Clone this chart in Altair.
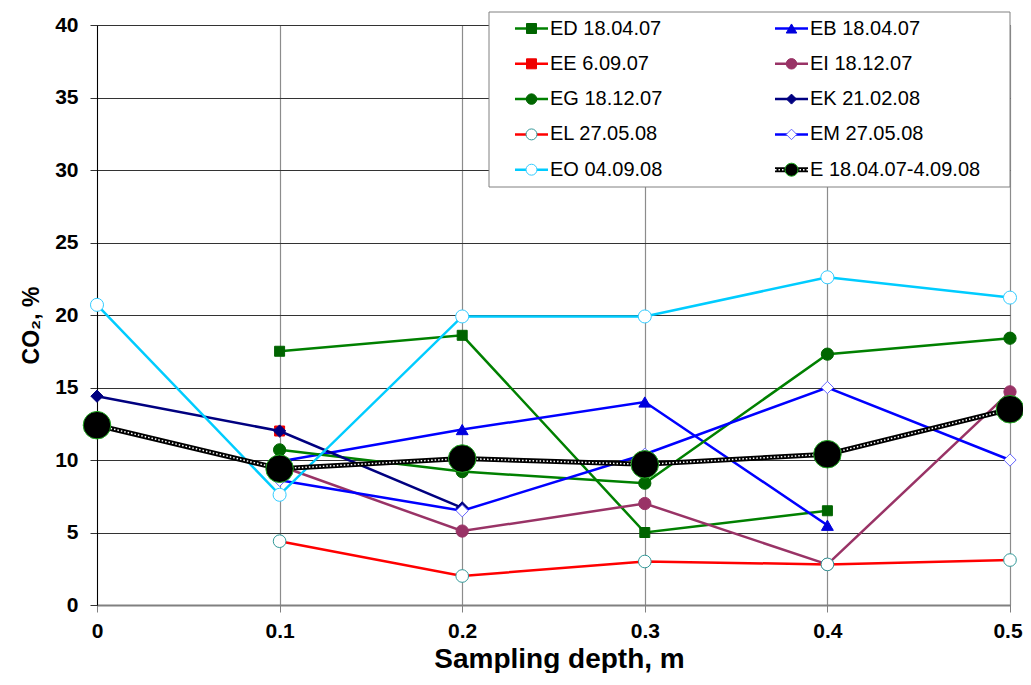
import altair as alt
import pandas as pd

# ---------------- data ----------------
depth = [0, 0.1, 0.2, 0.3, 0.4, 0.5]
series_names = ["ED 18.04.07", "EB 18.04.07", "EE 6.09.07", "EI 18.12.07",
                "EG 18.12.07", "EK 21.02.08", "EL 27.05.08", "EM 27.05.08",
                "EO 04.09.08", "E 18.04.07-4.09.08"]
ed = [None, 17.5, 18.6, 5.0, 6.5, None]
eb = [None, 9.9, 12.1, 14.0, 5.5, None]
ee = [None, 12.0, None, None, None, None]
ei = [None, 9.6, 5.1, 7.0, 2.8, 14.7]
eg = [None, 10.7, 9.2, 8.4, 17.3, 18.4]
ek = [14.4, 12.0, 6.7, None, None, None]
el = [None, 4.4, 2.0, 3.0, 2.8, 3.1]
em = [None, 8.6, 6.5, 10.4, 15.0, 10.0]
eo = [20.7, 7.6, 19.9, 19.9, 22.6, 21.2]
e_mean = [12.4, 9.4, 10.1, 9.7, 10.4, 13.5]
all_values = [ed, eb, ee, ei, eg, ek, el, em, eo, e_mean]
y_ticks = [0, 5, 10, 15, 20, 25, 30, 35, 40]

# ---------------- styles ----------------
styles = [
    dict(line="#008000", shape="square", filled=True, fill="#006400", stroke="#006400", size=100, lsize=100),
    dict(line="#0000FF", shape="triangle-up", filled=True, fill="#0000DD", stroke="#0000DD", size=140, lsize=110),
    dict(line="#FF0000", shape="square", filled=True, fill="#EE0000", stroke="#EE0000", size=100, lsize=100),
    dict(line="#993366", shape="circle", filled=True, fill="#993366", stroke="#993366", size=150, lsize=110),
    dict(line="#008000", shape="circle", filled=True, fill="#006600", stroke="#006600", size=150, lsize=110),
    dict(line="#000080", shape="diamond", filled=True, fill="#000080", stroke="#000080", size=150, lsize=100),
    dict(line="#FF0000", shape="circle", filled=False, fill="white", stroke="#339999", size=160, lsize=120),
    dict(line="#0000FF", shape="diamond", filled=False, fill="white", stroke="#6666FF", size=150, lsize=110),
    dict(line="#00CCFF", shape="circle", filled=False, fill="white", stroke="#33CCFF", size=170, lsize=120),
    dict(line="black", shape="circle", filled=True, fill="black", stroke="#22AA22", size=760, lsize=170),
]

FONT = "Liberation Sans"

rows = []
for name, vals in zip(series_names, all_values):
    for d, v in zip(depth, vals):
        if v is not None:
            rows.append({"series": name, "depth": d, "co2": v})
df = pd.DataFrame(rows)

x_enc = alt.X("depth:Q",
              scale=alt.Scale(domain=[0, 0.5], nice=False, zero=False),
              axis=alt.Axis(values=depth, format="~g", title="Sampling depth, m",
                            labelFont=FONT, labelFontSize=21, labelFontWeight="bold",
                            labelColor="black", labelPadding=8, labelBaseline="top",
                            labelFlush=False,
                            labelOffset={"condition": {"test": "datum.value >= 0.45", "value": -2.5},
                                         "value": 0},
                            tickSize=7, tickColor="#808080", domainColor="#808080",
                            domainWidth=2, gridColor="#8c8c8c", gridWidth=1.2,
                            titleFont=FONT, titleFontSize=28, titleFontWeight="bold",
                            titleColor="black", titleBaseline="alphabetic", titleY=62,
                            titleX=462, titleAlign="center"))
y_enc = alt.Y("co2:Q",
              scale=alt.Scale(domain=[0, 40], nice=False),
              axis=alt.Axis(values=y_ticks, title="CO₂, %",
                            labelFont=FONT, labelFontSize=21, labelFontWeight="bold",
                            labelColor="black", labelPadding=12, labelFlush=False,
                            tickSize=7, tickColor="#333333", domainColor="black",
                            gridColor="#333333", gridWidth=1,
                            titleFont=FONT, titleFontSize=23, titleFontWeight="bold",
                            titleColor="black", titleAngle=270, titleX=-66, titleY=300,
                            titleAlign="center", titleBaseline="middle"))

layers = []
for i, (name, st) in enumerate(zip(series_names, styles)):
    sub = df[df["series"] == name]
    base = alt.Chart(sub)
    if name.startswith("E 18"):
        layers.append(base.mark_line(color="black", strokeWidth=5).encode(x=x_enc, y=y_enc))
        layers.append(base.mark_line(color="white", strokeWidth=1.5, strokeDash=[1.5, 2]).encode(x=x_enc, y=y_enc))
    else:
        layers.append(base.mark_line(color=st["line"], strokeWidth=2.5).encode(x=x_enc, y=y_enc))
    layers.append(base.mark_point(shape=st["shape"], filled=st["filled"], fill=st["fill"],
                                  stroke=st["stroke"], strokeWidth=1, size=st["size"],
                                  opacity=1).encode(x=x_enc, y=y_enc))

# ---------------- legend (drawn manually, Excel style) ----------------
leg_rows = []
for i, name in enumerate(series_names):
    r, c = i // 2, i % 2
    x0 = 418 if c == 0 else 678
    leg_rows.append({"series": name, "lx1": x0, "lx2": x0 + 33, "mx": x0 + 16.5,
                     "tx": x0 + 35, "ly": 3.5 + r * 35.3})
leg = pd.DataFrame(leg_rows)

legend_layers = [
    alt.Chart(pd.DataFrame({"k": [0]})).mark_rect(fill="white", stroke="#808080", strokeWidth=1)
    .encode(x=alt.value(392), x2=alt.value(913), y=alt.value(-13), y2=alt.value(162))
]
for name, st in zip(series_names, styles):
    sub = leg[leg["series"] == name]
    b = alt.Chart(sub)
    lx = alt.X("lx1:Q", scale=None)
    lx2 = alt.X2("lx2:Q")
    ly = alt.Y("ly:Q", scale=None)
    if name.startswith("E 18"):
        legend_layers.append(b.mark_rule(color="black", strokeWidth=5).encode(x=lx, x2=lx2, y=ly))
        legend_layers.append(b.mark_rule(color="white", strokeWidth=1.5, strokeDash=[1.5, 2]).encode(x=lx, x2=lx2, y=ly))
    else:
        legend_layers.append(b.mark_rule(color=st["line"], strokeWidth=2.5).encode(x=lx, x2=lx2, y=ly))
    legend_layers.append(b.mark_point(shape=st["shape"], filled=st["filled"], fill=st["fill"],
                                      stroke=st["stroke"], strokeWidth=1, size=st["lsize"], opacity=1)
                         .encode(x=alt.X("mx:Q", scale=None), y=ly))
    legend_layers.append(b.mark_text(align="left", baseline="middle", font=FONT, fontSize=20,
                                     color="black")
                         .encode(x=alt.X("tx:Q", scale=None), y=ly, text="series:N"))

chart = alt.layer(*layers, *legend_layers).properties(
    width=913, height=580,
    autosize=alt.AutoSizeParams(type="none"),
    padding={"left": 89, "top": 17, "right": 13, "bottom": 68},
).configure_view(stroke=None).configure_axis(grid=True)

chart.save("out.html", embed_options={"renderer": "svg", "actions": False})
